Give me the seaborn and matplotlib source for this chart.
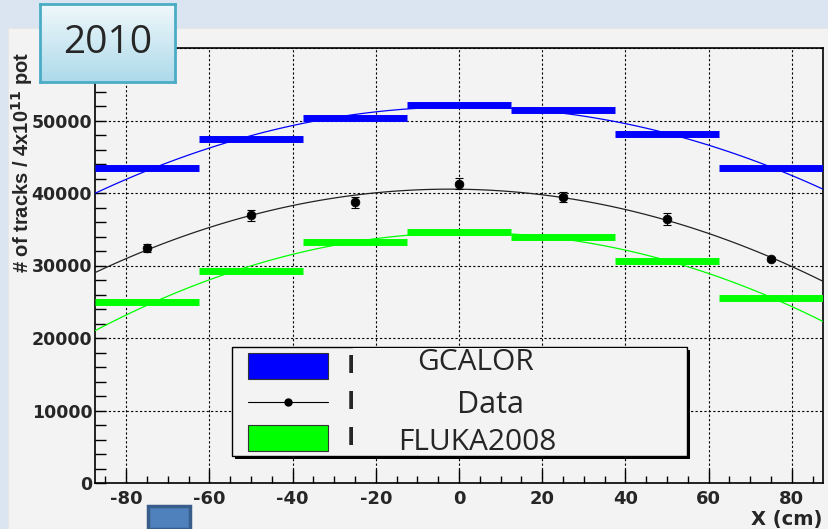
import numpy as np
import pandas as pd
import seaborn as sns
import matplotlib.pyplot as plt
from matplotlib.patches import Rectangle
from matplotlib.lines import Line2D
from matplotlib.ticker import MultipleLocator, FuncFormatter
from matplotlib.colors import LinearSegmentedColormap

# bin centres (cm) and contents
x_centres = [-75, -50, -25, 0, 25, 50, 75]
bin_width = 25
gcalor = [43500, 47400, 50400, 52200, 51400, 48200, 43400]
fluka = [24900, 29300, 33300, 34600, 34000, 30600, 25500]
data = [32400, 36900, 38700, 41300, 39400, 36400, 30900]
data_err = [600, 700, 700, 800, 700, 800, 300]

legend_names = ['GCALOR', 'Data', 'FLUKA2008']
year = '2010'

sns.set_style('ticks')
plt.rcParams['font.family'] = ['DejaVu Sans']
plt.rcParams['axes.unicode_minus'] = False

W, H = 829, 529
fig = plt.figure(figsize=(W / 100, H / 100), dpi=100)
fig.patch.set_facecolor('#dbe5f1')


def fx(x):
    return x / W


def fy(y):
    return 1 - y / H


# ROOT canvas background
fig.add_artist(Rectangle((fx(8), 0), 1 - fx(8), fy(28), transform=fig.transFigure,
                         facecolor='#f3f3f3', edgecolor='#e6e6e6', lw=0.8, zorder=0))

ax = fig.add_axes([fx(95), fy(483), fx(823) - fx(95), fy(48) - fy(483)])
ax.set_facecolor('#f3f3f3')
ax.set_xlim(-87.5, 87.5)
ax.set_ylim(0, 60000)

df = pd.DataFrame({'x': x_centres, 'gcalor': gcalor, 'fluka': fluka,
                   'data': data, 'err': data_err})

# fit curves (pol2) through seaborn
for col, c in [('gcalor', '#0000ff'), ('fluka', '#00ff00'), ('data', '#222222')]:
    sns.regplot(data=df, x='x', y=col, order=2, ci=None, scatter=False, truncate=False,
                ax=ax, line_kws=dict(color=c, lw=0.9, zorder=3))
ax.set_xlim(-87.5, 87.5)

# MC histograms as thick horizontal bars
ax.hlines(df['gcalor'], df['x'] - bin_width / 2, df['x'] + bin_width / 2,
          color='#0000ff', lw=5, zorder=4)
ax.hlines(df['fluka'], df['x'] - bin_width / 2, df['x'] + bin_width / 2,
          color='#00ff00', lw=5, zorder=4)

# data points
ax.errorbar(df['x'], df['data'], yerr=df['err'], fmt='none', ecolor='black',
            elinewidth=0.8, capsize=3, capthick=0.8, zorder=5)
sns.scatterplot(data=df, x='x', y='data', color='black', s=40, edgecolor='black',
                ax=ax, zorder=6)

# axes styling, ROOT look
ax.grid(True, color='black', lw=0.8, linestyle=(0, (2, 2)))
ax.xaxis.set_major_locator(MultipleLocator(20))
ax.xaxis.set_minor_locator(MultipleLocator(5))
ax.yaxis.set_major_locator(MultipleLocator(10000))
ax.yaxis.set_minor_locator(MultipleLocator(2000))
# the top label is hidden behind the "2010" box in the original
ax.yaxis.set_major_formatter(FuncFormatter(lambda v, p: '' if v >= 60000 else f'{v:.0f}'))
ax.tick_params(axis='both', which='both', direction='in', color='black', width=1)
ax.tick_params(axis='x', which='major', length=10, pad=5, labelsize=13)
ax.tick_params(axis='x', which='minor', length=5)
ax.tick_params(axis='y', which='major', length=8, pad=2, labelsize=12.5)
ax.tick_params(axis='y', which='minor', length=8)
ax.tick_params(top=False, right=False, which='both')
for lab in ax.get_xticklabels() + ax.get_yticklabels():
    lab.set_fontweight('bold')
for s in ax.spines.values():
    s.set_visible(True)
    s.set_color('black')
    s.set_linewidth(1.2)
ax.set_xlabel('')
ax.set_ylabel('')

fig.text(fx(22), fy(162), r'# of tracks / 4x10$^{\mathbf{11}}$ pot', rotation=90,
         ha='center', va='center', fontsize=14.5, fontweight='bold',
         family=['Liberation Sans', 'DejaVu Sans'])
fig.text(fx(822), fy(519), 'X (cm)', ha='right', va='center', fontsize=14,
         fontweight='bold')

# legend box with shadow
fig.add_artist(Rectangle((fx(235), fy(459)), fx(690) - fx(235), fy(350) - fy(459),
                         transform=fig.transFigure, facecolor='black', edgecolor='none', zorder=7))
fig.add_artist(Rectangle((fx(232), fy(456)), fx(687) - fx(232), fy(347) - fy(456),
                         transform=fig.transFigure, facecolor='#f3f3f3', edgecolor='black',
                         lw=1, zorder=8))
fig.add_artist(Rectangle((fx(248), fy(379)), fx(328) - fx(248), fy(353) - fy(379),
                         transform=fig.transFigure, facecolor='#0000ff', edgecolor='#333333',
                         lw=0.8, zorder=9))
fig.add_artist(Rectangle((fx(248), fy(451)), fx(328) - fx(248), fy(425) - fy(451),
                         transform=fig.transFigure, facecolor='#00ff00', edgecolor='#333333',
                         lw=0.8, zorder=9))
fig.add_artist(Line2D([fx(248), fx(328)], [fy(402), fy(402)], transform=fig.transFigure,
                      color='black', lw=0.8, zorder=9))
fig.add_artist(Line2D([fx(288)], [fy(402)], transform=fig.transFigure, color='black',
                      marker='o', markersize=5, zorder=9))
# partly hidden original ROOT labels
for lab, yy in zip(['M', 'D', 'M'], [366, 402, 438]):
    fig.text(fx(347), fy(yy), lab, ha='left', va='center', fontsize=18,
             fontweight='bold', zorder=9)
fig.add_artist(Rectangle((fx(353), fy(455)), fx(686) - fx(353), fy(348) - fy(455),
                         transform=fig.transFigure, facecolor='#f3f3f3', edgecolor='none',
                         zorder=10))
for lab, xx, yy, fs in zip(legend_names, [476, 490, 477], [362, 405, 443], [21.5, 22, 21.5]):
    fig.text(fx(xx), fy(yy), lab, ha='center', va='center', fontsize=fs,
             family=['Open Sans', 'DejaVu Sans'], zorder=11)

# "2010" call-out box with a soft gradient
bax = fig.add_axes([fx(40), fy(82), fx(175) - fx(40), fy(4) - fy(82)], zorder=12)
grad = LinearSegmentedColormap.from_list('callout', ['#f0f8fb', '#addaea'])
bax.imshow(np.linspace(0, 1, 64).reshape(-1, 1), aspect='auto', cmap=grad,
           extent=[0, 1, 0, 1], origin='upper')
bax.set_xticks([])
bax.set_yticks([])
for s in bax.spines.values():
    s.set_color('#4bacc6')
    s.set_linewidth(2)
bax.text(0.5, 0.5, year, ha='center', va='center', fontsize=28,
         family=['Open Sans', 'DejaVu Sans'], transform=bax.transAxes)

# small slide marker at the bottom
fig.add_artist(Rectangle((fx(148), 0), fx(190) - fx(148), fy(506), transform=fig.transFigure,
                         facecolor='#4f81bd', edgecolor='#385d8a', lw=2.5, zorder=12))

fig.savefig('out.png', dpi=100, facecolor=fig.get_facecolor())
